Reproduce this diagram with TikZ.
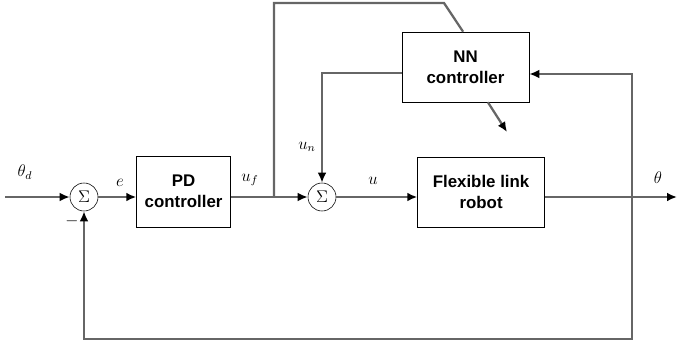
\documentclass[tikz,border=0pt]{standalone}
\usepackage{fontspec}
\setsansfont{Liberation Sans}
\usetikzlibrary{positioning,arrows.meta}

\begin{document}
\begin{tikzpicture}[font=\fontsize{12}{15}\selectfont,
  block/.style={draw, font=\fontsize{12}{15}\selectfont\sffamily\bfseries, align=center, minimum width=3.175cm, minimum height=1.75cm},
  sumnode/.style={draw, circle, minimum size=0.7cm, inner sep=0pt},
  sig/.style={draw=black!60, line width=1.6pt},
  sigarr/.style={sig, -{Latex[length=2.5mm,width=2.2mm,color=black]}}]

\useasboundingbox (0,0) rectangle (16.925,8.65);

\node [sumnode] (sum1) at (2.1,3.725) {$\Sigma$};
\node [block, minimum width=2.35cm, minimum height=1.775cm, right=0.95cm of sum1, yshift=0.14cm] (pd) {PD\\controller};
\node [sumnode] (sum2) at (8.05,3.725) {$\Sigma$};
\node [block, right=2.025cm of sum2, yshift=0.125cm] (robot) {Flexible link\\robot};
\node [block] (nn) at (11.6375,6.975) {NN\\controller};

\coordinate (in) at (0.125,3.725);
\coordinate (out) at (16.925,3.725);
\coordinate (br) at (6.85,3.725);
\coordinate (top) at (11.1,8.575);
\coordinate (fb) at (15.8,3.725);
\coordinate (bot) at (0,0.175);
\coordinate (nnout) at (12.675,5.35);

\draw [sigarr] (in) -- (sum1);
\draw [sigarr] (sum1) -- (sum1 -| pd.west);
\draw [sigarr] (pd.east |- sum2) -- (sum2);
\draw [sig] (br) |- (top) -- ([xshift=-0.06cm]nn.north);
\draw [sigarr] ([yshift=-0.15cm]nn.west) -| (sum2.north);
\draw [sigarr] ([xshift=0.56cm]nn.south) -- (nnout);
\draw [sigarr] (sum2) -- (sum2 -| robot.west);
\draw [sigarr] (robot.east |- sum2) -- (out);
\draw [sigarr] (fb) |- ([yshift=-0.175cm]nn.east);
\draw [sigarr] (fb) |- (sum1.south |- bot) -- (sum1.south);

\node (thetad) at (0.625,4.35) {$\theta_d$};
\node (minus) at (1.8,3.125) {$-$};
\node (elab) at (3.0,4.075) {$e$};
\node (uflab) at (6.25,4.15) {$u_f$};
\node (unlab) at (7.675,4.975) {$u_n$};
\node (ulab) at (9.325,4.125) {$u$};
\node (thetalab) at (16.45,4.2) {$\theta$};

\end{tikzpicture}
\end{document}
